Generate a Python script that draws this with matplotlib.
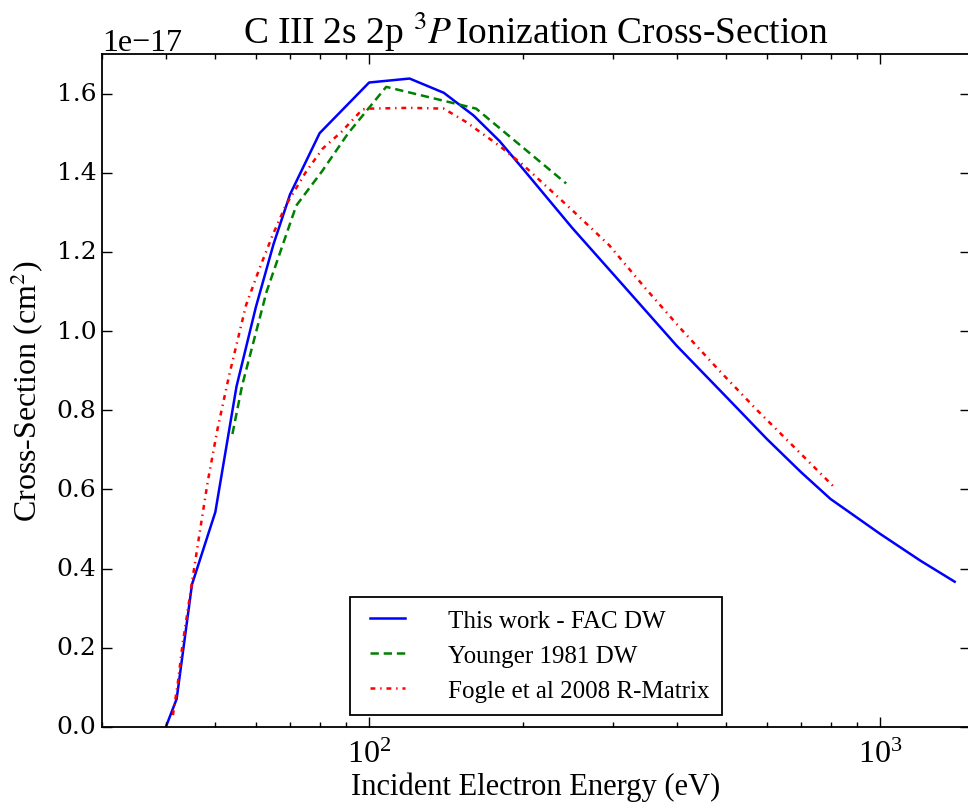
import matplotlib
matplotlib.use("Agg")
import matplotlib.pyplot as plt

plt.style.use("classic")
plt.rcParams["font.family"] = ["Liberation Serif", "DejaVu Serif"]
plt.rcParams["mathtext.fontset"] = "stix"

# FAC DW (this work)
fac_e = [40, 42, 45, 50, 55, 60, 65, 70, 80, 100, 120, 140, 160, 180, 200,
         250, 300, 400, 500, 600, 700, 800, 1000, 1200, 1400]
fac_s = [0.0, 0.071, 0.36, 0.543, 0.86, 1.06, 1.22, 1.345, 1.50, 1.628, 1.638,
         1.602, 1.545, 1.48, 1.41, 1.26, 1.145, 0.963, 0.834, 0.728, 0.644,
         0.576, 0.488, 0.42, 0.367]

# Younger 1981 DW
you_e = [54, 56.4, 63, 72, 81, 91, 108, 162, 243]
you_s = [0.74, 0.862, 1.10, 1.317, 1.405, 1.50, 1.617, 1.562, 1.373]

# Fogle et al 2008 R-Matrix
fog_e = [41.3, 42.2, 43.1, 44.8, 46.5, 48.3, 50.5, 53.2, 57.4, 61, 64.7, 68.7,
         75.2, 81.1, 88.2, 97, 100, 120, 140, 154.5, 179.5, 200, 250, 295,
         348, 410, 484, 575, 684, 819]
fog_s = [0.03, 0.109, 0.206, 0.349, 0.484, 0.619, 0.753, 0.888, 1.065, 1.158,
         1.242, 1.318, 1.402, 1.461, 1.503, 1.56, 1.562, 1.564, 1.562, 1.529,
         1.469, 1.42, 1.305, 1.217, 1.107, 1.002, 0.901, 0.80, 0.703, 0.602]

scale = 1e-17

fig = plt.figure(figsize=(9.68, 8.03), dpi=100, facecolor="white")
ax = fig.add_axes([102/968, 1-728/803, 868/968, (728-55)/803])

ax.plot(fac_e, [v*scale for v in fac_s], color="b", ls="-", lw=1.8,
        label="This work - FAC DW")
ax.plot(you_e, [v*scale for v in you_s], color="g", lw=1.8, dashes=(6, 3.5),
        label="Younger 1981 DW")
ax.plot(fog_e, [v*scale for v in fog_s], color="r", lw=1.8,
        dashes=(3.5, 3.5, 1, 3.5), label="Fogle et al 2008 R-Matrix")

ax.set_xscale("log")
ax.set_xlim(30, 1500)
ax.set_ylim(0, 1.7e-17)
ax.set_yticks([i*0.2e-17 for i in range(9)])

ax.tick_params(which="major", length=7, width=1, direction="in", top=True, right=True)
ax.tick_params(which="minor", length=3.5, width=1, direction="in", top=True, right=True)
ax.tick_params(axis="x", labelsize=23, pad=9)
ax.tick_params(axis="y", labelsize=18)
for lab in ax.get_yticklabels():
    lab.set_family(["DejaVu Serif"])
ax.yaxis.get_offset_text().set_fontsize(23)

for s in ax.spines.values():
    s.set_linewidth(1.3)

ax.set_title(r"C III 2s 2p $^3P\,$Ionization Cross-Section", fontsize=27, pad=8)
ax.set_xlabel("Incident Electron Energy (eV)", fontsize=22, labelpad=2)
ax.set_ylabel(r"Cross-Section (cm$^2$)", fontsize=23, labelpad=8)

leg = ax.legend(loc="lower center", fontsize=18, frameon=True, fancybox=False,
                borderaxespad=0.5, handlelength=2.0, handletextpad=1.4,
                labelspacing=0.5, borderpad=0.5)
leg.get_frame().set_edgecolor("black")
leg.get_frame().set_linewidth(1.3)

fig.savefig("out.png", dpi=100, facecolor="white")
